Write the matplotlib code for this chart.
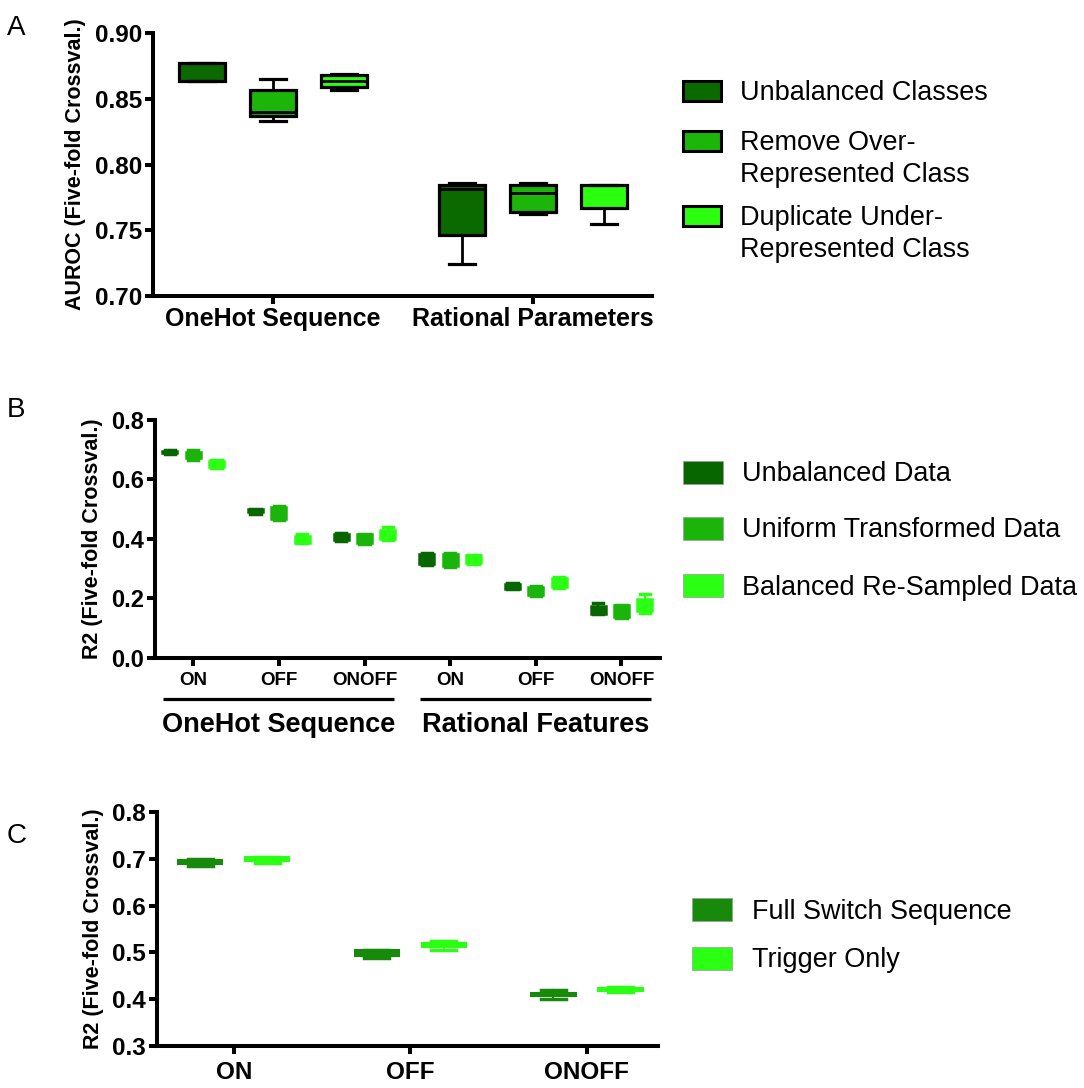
import numpy as np
import matplotlib.pyplot as plt
from matplotlib.patches import Rectangle
from matplotlib.transforms import Affine2D, blended_transform_factory

plt.rcParams["font.family"] = ["Liberation Sans", "DejaVu Sans"]

W, H = 1084, 1088

# ---- Panel A: classification AUROC ----
a_groups = ["OneHot Sequence", "Rational Parameters"]
a_series = ["Unbalanced Classes", "Remove Over-\nRepresented Class",
            "Duplicate Under-\nRepresented Class"]
a_colors = ["#0a6a00", "#1cb50a", "#2bff0f"]
# rows = group, cols = series
a_whislo = [[0.864, 0.833, 0.857], [0.724, 0.762, 0.755]]
a_q1 = [[0.864, 0.837, 0.859], [0.746, 0.764, 0.767]]
a_med = [[0.877, 0.840, 0.864], [0.781, 0.778, 0.784]]
a_q3 = [[0.877, 0.857, 0.868], [0.784, 0.784, 0.784]]
a_whishi = [[0.877, 0.865, 0.869], [0.786, 0.786, 0.784]]

# ---- Panel B: regression R2 ----
b_groups = ["OneHot Sequence", "Rational Features"]
b_targets = ["ON", "OFF", "ONOFF"]
b_series = ["Unbalanced Data", "Uniform Transformed Data", "Balanced Re-Sampled Data"]
b_colors = ["#086600", "#1ab40a", "#2aff14"]
# rows = ON/OFF/ONOFF (OneHot) then ON/OFF/ONOFF (Rational), cols = series
b_whislo = [[0.686, 0.666, 0.638], [0.484, 0.463, 0.385], [0.393, 0.384, 0.396],
            [0.311, 0.306, 0.316], [0.232, 0.208, 0.236], [0.146, 0.135, 0.150]]
b_q1 = [[0.688, 0.671, 0.641], [0.489, 0.468, 0.387], [0.396, 0.386, 0.398],
        [0.314, 0.310, 0.320], [0.232, 0.211, 0.237], [0.147, 0.138, 0.158]]
b_med = [[0.692, 0.684, 0.652], [0.495, 0.488, 0.398], [0.407, 0.401, 0.416],
         [0.332, 0.330, 0.333], [0.242, 0.225, 0.253], [0.162, 0.157, 0.178]]
b_q3 = [[0.695, 0.691, 0.663], [0.502, 0.506, 0.410], [0.417, 0.415, 0.430],
        [0.350, 0.349, 0.344], [0.249, 0.239, 0.267], [0.174, 0.176, 0.199]]
b_whishi = [[0.698, 0.699, 0.666], [0.502, 0.510, 0.417], [0.420, 0.418, 0.441],
            [0.353, 0.353, 0.347], [0.252, 0.242, 0.272], [0.184, 0.179, 0.213]]

# ---- Panel C: full switch vs trigger ----
c_targets = ["ON", "OFF", "ONOFF"]
c_series = ["Full Switch Sequence", "Trigger Only"]
c_colors = ["#178a0c", "#2bff14"]
# rows = series, cols = target
c_whislo = [[0.684, 0.487, 0.399], [0.691, 0.504, 0.415]]
c_q1 = [[0.689, 0.492, 0.406], [0.696, 0.511, 0.417]]
c_med = [[0.693, 0.498, 0.410], [0.700, 0.516, 0.421]]
c_q3 = [[0.698, 0.504, 0.413], [0.704, 0.520, 0.423]]
c_whishi = [[0.701, 0.504, 0.419], [0.704, 0.525, 0.426]]

fig = plt.figure(figsize=(W / 100, H / 100), dpi=100)
# pixel coordinates with origin at the top-left corner
px = Affine2D().scale(1 / W, -1 / H).translate(0, 1) + fig.transFigure


def add_axes_px(left, top, right, bottom):
    return fig.add_axes([left / W, 1 - bottom / H, (right - left) / W, (bottom - top) / H])


def style_axes(ax, tick_size):
    for s in ["top", "right"]:
        ax.spines[s].set_visible(False)
    for s in ["left", "bottom"]:
        ax.spines[s].set_linewidth(2.9)
    ax.tick_params(width=2.9, length=6, labelsize=tick_size, pad=2)
    for lab in ax.get_xticklabels() + ax.get_yticklabels():
        lab.set_fontweight("bold")


def stats(lo, q1, med, q3, hi):
    return {"whislo": lo, "q1": q1, "med": med, "q3": q3, "whishi": hi}


def legend_px(entries, colors, x, ys, w, h, edge, text_x, size):
    for lab, col, y in zip(entries, colors, ys):
        fig.add_artist(Rectangle((x, y - h / 2), w, h, transform=px, facecolor=col,
                                 edgecolor=edge[0], linewidth=edge[1]))
        fig.text(text_x, y - size * 0.40, lab, transform=px, fontsize=size / 1.39,
                 va="top", ha="left", linespacing=1.3)


# ================= A =================
axA = add_axes_px(153, 33.3, 652, 295.7)
offsets3 = [-0.273, 0.0, 0.273]
for g in range(2):
    for s in range(3):
        st = stats(a_whislo[g][s], a_q1[g][s], a_med[g][s], a_q3[g][s], a_whishi[g][s])
        axA.bxp([st], positions=[g + offsets3[s]], widths=0.176, capwidths=0.1,
                showfliers=False, patch_artist=True,
                boxprops=dict(facecolor=a_colors[s], edgecolor="black", linewidth=2.3),
                whiskerprops=dict(color="black", linewidth=2.0),
                capprops=dict(color="black", linewidth=2.3),
                medianprops=dict(color="black", linewidth=2.0))
axA.set_xlim(-0.46, 1.456)
axA.set_ylim(0.70, 0.90)
axA.set_yticks([0.70, 0.75, 0.80, 0.85, 0.90])
axA.set_yticklabels(["0.70", "0.75", "0.80", "0.85", "0.90"])
axA.set_xticks([0, 1])
axA.set_xticklabels(a_groups)
style_axes(axA, 17.5)
axA.tick_params(axis="x", labelsize=18, pad=2)
axA.set_ylabel("AUROC (Five-fold Crossval.)", fontsize=15.5, fontweight="bold", labelpad=6)
legend_px(a_series, a_colors, 683, [90.5, 141, 216], 38, 20, ("black", 2.2), 740, 27)

# ================= B =================
axB = add_axes_px(155, 420, 660, 657.7)
for c in range(6):
    for s in range(3):
        st = stats(b_whislo[c][s], b_q1[c][s], b_med[c][s], b_q3[c][s], b_whishi[c][s])
        col = b_colors[s]
        axB.bxp([st], positions=[c + offsets3[s]], widths=0.175, capwidths=0.12,
                showfliers=False, patch_artist=True,
                boxprops=dict(facecolor=col, edgecolor=col, linewidth=1.8),
                whiskerprops=dict(color=col, linewidth=1.5),
                capprops=dict(color=col, linewidth=2.5),
                medianprops=dict(color=col, linewidth=1.0))
axB.set_xlim(-0.446, 5.45)
axB.set_ylim(0.0, 0.8)
axB.set_yticks([0.0, 0.2, 0.4, 0.6, 0.8])
axB.set_xticks(range(6))
axB.set_xticklabels(b_targets * 2)
style_axes(axB, 17)
axB.tick_params(axis="x", labelsize=13.5, pad=4)
axB.set_ylabel("R2 (Five-fold Crossval.)", fontsize=15.5, fontweight="bold", labelpad=6)
trB = blended_transform_factory(axB.transData, axB.transAxes)
for g, name in enumerate(b_groups):
    x0, x1 = g * 3 - 0.357, g * 3 + 2.343
    axB.plot([x0, x1], [-0.172, -0.172], transform=trB, color="black",
             linewidth=2.3, clip_on=False, solid_capstyle="butt")
    axB.text((x0 + x1) / 2, -0.282, name, transform=trB, ha="center", va="center",
             fontsize=19.5, fontweight="bold")
legend_px(b_series, b_colors, 683, [472, 528, 585.5], 40, 23, ("#9a9a9a", 0.5), 742, 27)

# ================= C =================
axC = add_axes_px(156.7, 812.3, 658, 1045.7)
offsets2 = [-0.19, 0.19]
for s in range(2):
    col = c_colors[s]
    for t in range(3):
        st = stats(c_whislo[s][t], c_q1[s][t], c_med[s][t], c_q3[s][t], c_whishi[s][t])
        axC.bxp([st], positions=[t + offsets2[s]], widths=0.25, capwidths=0.142,
                showfliers=False, patch_artist=True,
                boxprops=dict(facecolor=col, edgecolor=col, linewidth=1.5),
                whiskerprops=dict(color=col, linewidth=1.5),
                capprops=dict(color=col, linewidth=2.5),
                medianprops=dict(color=col, linewidth=1.0))
axC.set_xlim(-0.436, 2.402)
axC.set_ylim(0.3, 0.8)
axC.set_yticks([0.3, 0.4, 0.5, 0.6, 0.7, 0.8])
axC.set_xticks(range(3))
axC.set_xticklabels(c_targets)
style_axes(axC, 17.5)
axC.tick_params(axis="x", labelsize=17.5, pad=5)
axC.set_ylabel("R2 (Five-fold Crossval.)", fontsize=15.5, fontweight="bold", labelpad=6)
legend_px(c_series, c_colors, 692, [909.5, 958], 40, 23, ("#9a9a9a", 0.5), 752, 27)

# panel letters
for letter, y in [("A", 35), ("B", 417), ("C", 843)]:
    fig.text(7, y, letter, transform=px, fontsize=20, ha="left", va="baseline")

fig.savefig("out.png", dpi=100)
